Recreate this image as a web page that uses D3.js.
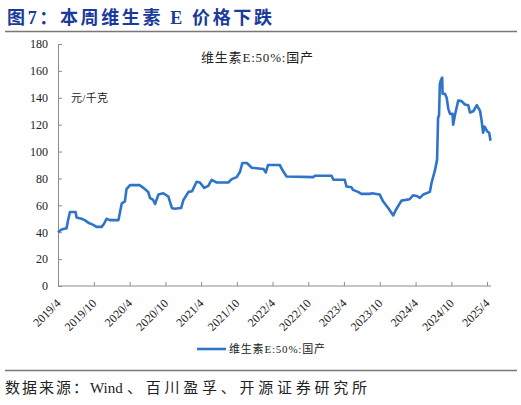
<!DOCTYPE html>
<html>
<head>
<meta charset="utf-8">
<script src="https://cdn.jsdelivr.net/npm/d3@7"></script>
<style>
  body { margin: 0; background: #fff; }
  svg { display: block; }
</style>
</head>
<body>
<script>
var width = 521
var height = 405

// data
var dates = ["2019-04-01","2019-04-19","2019-05-15","2019-05-21","2019-06-01","2019-06-30","2019-07-05","2019-07-30",
  "2019-08-16","2019-09-03","2019-09-28","2019-10-15","2019-11-10","2019-11-23","2019-12-05","2019-12-22",
  "2020-02-04","2020-02-12","2020-02-21","2020-03-08","2020-03-16","2020-04-03","2020-05-23","2020-06-10",
  "2020-07-05","2020-07-14","2020-07-30","2020-08-09","2020-08-26","2020-09-20","2020-10-16","2020-11-03",
  "2020-11-16","2020-12-20","2021-01-01","2021-01-27","2021-02-14","2021-03-09","2021-03-26","2021-04-17",
  "2021-05-08","2021-05-25","2021-06-20","2021-08-18","2021-09-05","2021-09-30","2021-10-17","2021-10-29",
  "2021-11-21","2021-12-16","2022-02-14","2022-02-26","2022-03-09","2022-05-08","2022-05-25","2022-06-12",
  "2022-10-26","2022-11-04","2023-01-28","2023-02-06","2023-04-05","2023-04-14","2023-05-09","2023-05-17",
  "2023-06-12","2023-06-29","2023-08-11","2023-08-21","2023-10-01","2023-10-18","2023-11-13","2023-11-27",
  "2023-12-09","2023-12-22","2024-01-20","2024-03-02","2024-03-19","2024-04-06","2024-04-23","2024-05-10",
  "2024-06-13","2024-06-22","2024-07-09","2024-07-20","2024-07-25","2024-07-30","2024-08-03","2024-08-08",
  "2024-08-15","2024-08-17","2024-08-29","2024-09-07","2024-09-15","2024-09-24","2024-10-07","2024-10-10",
  "2024-10-19","2024-11-05","2024-11-22","2024-12-09","2024-12-26","2025-01-04","2025-01-21","2025-02-08",
  "2025-02-25","2025-03-04","2025-03-12","2025-03-20","2025-04-02","2025-04-12","2025-04-19"]
var prices = [40,42,43,48,55,55,51,50,
  49,47,45.5,44,44,46.5,50,49,
  49,55,61.5,63,72,75,75,73,
  70,65.5,64,61,68,69,66.5,58,
  57.5,58,64,70,70.5,77.5,77,73,
  74.5,79,77,77,79.5,81,85,91.5,
  91.5,88,87,84.5,90,90,85.5,81.5,
  81,82,82,79,79,74,73.5,71.5,
  70,68.5,68.5,69,68,63,58,55,
  52.5,56.5,63.5,64.5,67.5,67,65.5,68,
  70,77,86,94,125,127,150,153,
  155,143,143,140,132,128,128,120,
  127,138,137.5,135,134.5,129,130,134.5,
  130,123.5,114,118.5,115,114,108]
var xTickLabels = ["2019/4","2019/10","2020/4","2020/10","2021/4","2021/10","2022/4",
  "2022/10","2023/4","2023/10","2024/4","2024/10","2025/4"]
var yTicks = [0, 20, 40, 60, 80, 100, 120, 140, 160, 180]
var seriesName = "维生素E:50%:国产"

var serif = "'Liberation Serif', 'Times New Roman', 'Noto Sans CJK SC', serif"
var blue = "#2e74c9"
var grey = "#8c8c8c"

var parseDay = d3.timeParse("%Y-%m-%d")
var parseTick = d3.timeParse("%Y/%m")

var points = dates.map(function(d, i) { return { date: parseDay(d), value: prices[i] } })

var svg = d3.select("body").append("svg")
    .attr("width", width)
    .attr("height", height)

// title
svg.append("text")
    .attr("x", 7)
    .attr("y", 24)
    .attr("fill", "#1a3a9c")
    .attr("font-family", "'Liberation Serif', 'Noto Sans CJK SC', serif")
    .attr("font-weight", "bold")
    .attr("font-size", 18)
    .attr("textLength", 265)
    .attr("lengthAdjust", "spacing")
    .text("图7：本周维生素 E 价格下跌")

svg.append("line")
    .attr("x1", 5).attr("x2", 517)
    .attr("y1", 31.5).attr("y2", 31.5)
    .attr("stroke", "#777")
    .attr("stroke-width", 1.5)

// scales
var x = d3.scaleTime()
    .domain([parseTick("2019/4"), parseTick("2025/4")])
    .range([58, 487])

var y = d3.scaleLinear()
    .domain([0, 180])
    .range([286, 44])

// y axis
var yAxis = svg.append("g")
    .attr("transform", "translate(58,0)")
    .call(d3.axisLeft(y).tickValues(yTicks).tickSize(-4).tickPadding(10))
yAxis.select(".domain").attr("stroke", grey)
yAxis.selectAll(".tick line").attr("stroke", grey)
yAxis.selectAll("text")
    .attr("font-family", serif)
    .attr("font-size", 12)
    .attr("fill", "#222")

// x axis
var xAxis = svg.append("g")
    .attr("transform", "translate(0,286)")
    .call(d3.axisBottom(x)
      .tickValues(xTickLabels.map(parseTick))
      .tickFormat(d3.timeFormat("%Y/%-m"))
      .tickSize(-4)
      .tickSizeOuter(0))
xAxis.select(".domain")
    .attr("d", "M58,0H491")
    .attr("stroke", grey)
xAxis.selectAll(".tick line").attr("stroke", grey)
xAxis.selectAll("text")
    .attr("font-family", serif)
    .attr("font-size", 12)
    .attr("fill", "#222")
    .attr("text-anchor", "end")
    .attr("x", 0)
    .attr("y", 0)
    .attr("dy", "0.35em")
    .attr("transform", "translate(0,15) rotate(-45)")

// the line
var line = d3.line()
    .x(function(d) { return x(d.date) })
    .y(function(d) { return y(d.value) })

svg.append("path")
    .datum(points)
    .attr("fill", "none")
    .attr("stroke", blue)
    .attr("stroke-width", 2.6)
    .attr("stroke-linejoin", "round")
    .attr("d", line)

// annotations
svg.append("text")
    .attr("x", 201)
    .attr("y", 62)
    .attr("font-family", serif)
    .attr("font-size", 13)
    .attr("fill", "#222")
    .attr("textLength", 112)
    .attr("lengthAdjust", "spacing")
    .text(seriesName)

svg.append("text")
    .attr("x", 71)
    .attr("y", 102)
    .attr("font-family", serif)
    .attr("font-size", 11)
    .attr("fill", "#222")
    .attr("textLength", 37)
    .attr("lengthAdjust", "spacing")
    .text("元/千克")

// legend
svg.append("line")
    .attr("x1", 197).attr("x2", 226)
    .attr("y1", 349).attr("y2", 349)
    .attr("stroke", blue)
    .attr("stroke-width", 2.6)

svg.append("text")
    .attr("x", 229)
    .attr("y", 353)
    .attr("font-family", serif)
    .attr("font-size", 11)
    .attr("fill", "#222")
    .attr("textLength", 96)
    .attr("lengthAdjust", "spacing")
    .text(seriesName)

// source
svg.append("line")
    .attr("x1", 5).attr("x2", 517)
    .attr("y1", 370.5).attr("y2", 370.5)
    .attr("stroke", "#777")
    .attr("stroke-width", 1.5)

var source = svg.append("text")
    .attr("y", 393)
    .attr("font-family", serif)
    .attr("font-size", 15)
    .attr("fill", "#222")

source.append("tspan")
    .attr("x", 5)
    .attr("textLength", 83)
    .attr("lengthAdjust", "spacing")
    .text("数据来源：")
source.append("tspan")
    .attr("x", 90)
    .text("Wind")
source.append("tspan")
    .attr("x", 127)
    .attr("textLength", 240)
    .attr("lengthAdjust", "spacing")
    .text("、百川盈孚、开源证券研究所")
</script>
</body>
</html>
